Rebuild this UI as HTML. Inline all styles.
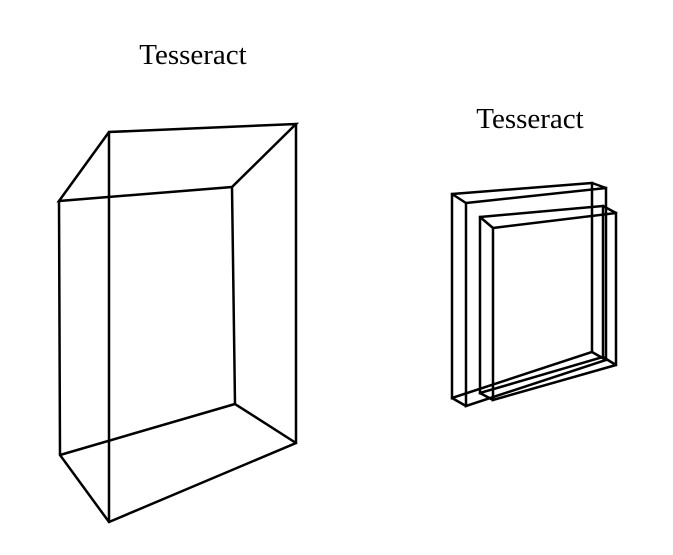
<!DOCTYPE html>
<html><head><style>body{margin:0;background:#fff}svg{display:block}</style></head><body>
<svg width="673" height="555" xmlns="http://www.w3.org/2000/svg">
<rect width="673" height="555" fill="#fff"/>
<text x="193" y="64" font-family="Liberation Serif, serif" font-size="29" text-anchor="middle">Tesseract</text>
<text x="530" y="128" font-family="Liberation Serif, serif" font-size="29" text-anchor="middle">Tesseract</text>
<g stroke="#000" stroke-width="2.5" fill="none" stroke-linecap="round">
<path d="M59,201 L109,132 L296,124 L232,187 L59,201 Z"/>
<path d="M59,201 L60,455 L109,522 L296,443 L296,124"/>
<path d="M109,132 L109,522"/>
<path d="M232,187 L235,404 L296,443"/>
<path d="M60,455 L235,404"/>
<path d="M452,194 L592,183 L592,352 L452,398 Z"/>
<path d="M466,203 L606,188 L606,360 L466,406 Z"/>
<path d="M452,194 L466,203 M592,183 L606,188 M592,352 L606,360 M452,398 L466,406"/>
<path d="M480,217 L603,206 L603,357 L480,393 Z"/>
<path d="M493,228 L616,213 L616,365 L493,400 Z"/>
<path d="M480,217 L493,228 M603,206 L616,213 M603,357 L616,365 M480,393 L493,400"/>
</g>
</svg>
</body></html>
